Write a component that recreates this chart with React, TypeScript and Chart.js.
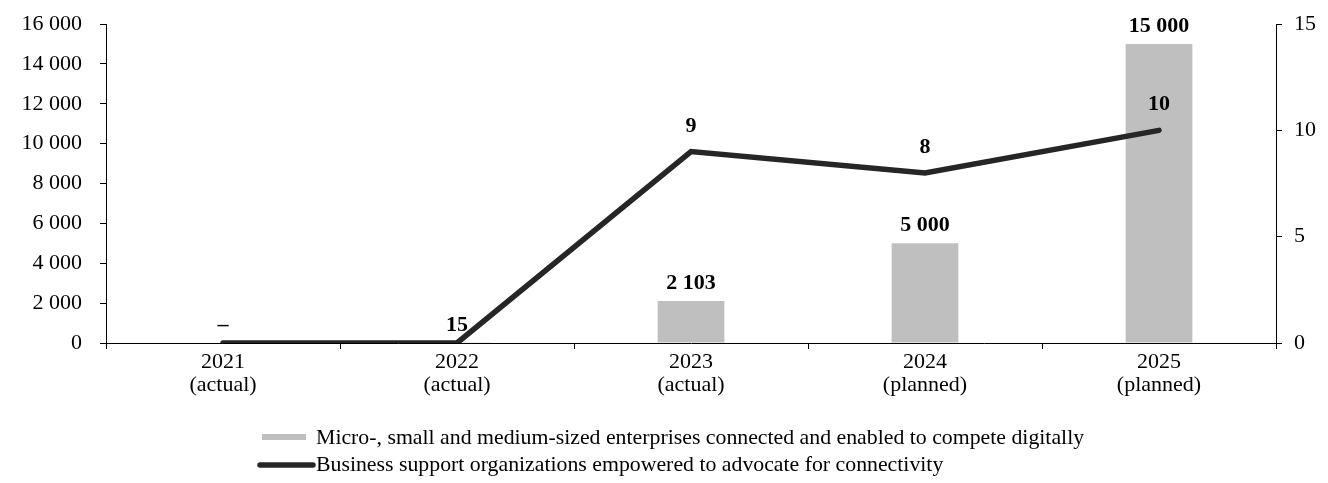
import React, { useEffect, useRef } from "react";
import { Chart, registerables } from "chart.js";

Chart.register(...registerables);

const categories: string[][] = [
  ["2021", "(actual)"],
  ["2022", "(actual)"],
  ["2023", "(actual)"],
  ["2024", "(planned)"],
  ["2025", "(planned)"],
];
const barLabel =
  "Micro-, small and medium-sized enterprises connected and enabled to compete digitally";
const lineLabel = "Business support organizations empowered to advocate for connectivity";
const barValues = [0, 15, 2103, 5000, 15000];
const lineValues = [0, 0, 9, 8, 10];
const leftMax = 16000;
const leftStep = 2000;
const rightMax = 15;
const rightStep = 5;

const FONT = '"Liberation Serif", "Times New Roman", serif';
const BAR_COLOR = "#BFBFBF";
const LINE_COLOR = "#262626";

function fmt(v: number): string {
  if (v === 0) return "–";
  return String(v).replace(/\B(?=(\d{3})+(?!\d))/g, " ");
}

const valueLabels = {
  id: "valueLabels",
  afterDatasetsDraw(chart: any) {
    const ctx = chart.ctx;
    ctx.save();
    ctx.font = `bold 22px ${FONT}`;
    ctx.fillStyle = "#000";
    ctx.textAlign = "center";
    ctx.textBaseline = "alphabetic";
    const barMeta = chart.getDatasetMeta(0);
    barMeta.data.forEach((el: any, i: number) => {
      ctx.fillText(fmt(barValues[i]), el.x, el.y - 12);
    });
    const lineMeta = chart.getDatasetMeta(1);
    lineMeta.data.forEach((el: any, i: number) => {
      if (lineValues[i] > 0) ctx.fillText(String(lineValues[i]), el.x, el.y - 20);
    });
    ctx.restore();
  },
};

const customLegend = {
  id: "customLegend",
  afterDraw(chart: any) {
    const ctx = chart.ctx;
    ctx.save();
    ctx.font = `21.8px ${FONT}`;
    ctx.textAlign = "left";
    ctx.textBaseline = "middle";
    // bar entry
    ctx.fillStyle = BAR_COLOR;
    ctx.fillRect(262, 434, 44, 6);
    ctx.fillStyle = "#000";
    ctx.fillText(chart.data.datasets[0].label, 316, 438);
    // line entry
    ctx.strokeStyle = LINE_COLOR;
    ctx.lineWidth = 5.5;
    ctx.lineCap = "round";
    ctx.beginPath();
    ctx.moveTo(260, 465);
    ctx.lineTo(313, 465);
    ctx.stroke();
    ctx.fillText(chart.data.datasets[1].label, 316, 465);
    ctx.restore();
  },
};

export default function App() {
  const ref = useRef<HTMLCanvasElement | null>(null);
  useEffect(() => {
    document.body.style.margin = "0";
    if (!ref.current) return;
    const chart = new Chart(ref.current, {
      type: "bar",
      data: {
        labels: categories,
        datasets: [
          {
            type: "bar",
            label: barLabel,
            data: barValues,
            backgroundColor: BAR_COLOR,
            borderWidth: 0,
            barPercentage: 0.285,
            categoryPercentage: 1,
            yAxisID: "y",
            order: 2,
          },
          {
            type: "line",
            label: lineLabel,
            data: lineValues,
            borderColor: LINE_COLOR,
            backgroundColor: LINE_COLOR,
            borderWidth: 5.5,
            pointRadius: 0,
            tension: 0,
            borderCapStyle: "round",
            yAxisID: "y1",
            order: 1,
          } as any,
        ],
      },
      options: {
        responsive: false,
        animation: false,
        layout: { padding: { top: 24, bottom: 70, left: 0, right: 0 } },
        plugins: {
          legend: { display: false },
          tooltip: { enabled: false },
        },
        scales: {
          x: {
            offset: true,
            grid: {
              offset: true,
              drawOnChartArea: false,
              drawTicks: true,
              tickLength: 6,
              color: "#000",
            },
            border: { display: true, color: "#000", width: 1 },
            ticks: {
              color: "#000",
              font: { family: FONT, size: 22, lineHeight: 1.05 },
              padding: 2,
              maxRotation: 0,
              autoSkip: false,
            },
            afterFit(scale: any) {
              scale.height = 70;
              scale.paddingLeft = 0;
              scale.paddingRight = 0;
            },
          },
          y: {
            position: "left",
            min: 0,
            max: leftMax,
            grid: { drawOnChartArea: false, drawTicks: true, tickLength: 6, color: "#000" },
            border: { display: true, color: "#000", width: 1 },
            ticks: {
              stepSize: leftStep,
              color: "#000",
              padding: 18,
              font: { family: FONT, size: 22 },
              callback: (v: any) => String(v).replace(/\B(?=(\d{3})+(?!\d))/g, " "),
            },
            afterFit(scale: any) {
              scale.width = 106;
              scale.paddingTop = 0;
              scale.paddingBottom = 0;
            },
          },
          y1: {
            position: "right",
            min: 0,
            max: rightMax,
            grid: { drawOnChartArea: false, drawTicks: true, tickLength: 6, color: "#000" },
            border: { display: true, color: "#000", width: 1 },
            ticks: {
              stepSize: rightStep,
              color: "#000",
              padding: 12,
              font: { family: FONT, size: 22 },
            },
            afterFit(scale: any) {
              scale.width = 52;
              scale.paddingTop = 0;
              scale.paddingBottom = 0;
            },
          },
        },
      },
      plugins: [valueLabels, customLegend],
    });
    return () => chart.destroy();
  }, []);
  return (
    <div style={{ width: 1328, height: 483 }}>
      <canvas ref={ref} width={1328} height={483} />
    </div>
  );
}
